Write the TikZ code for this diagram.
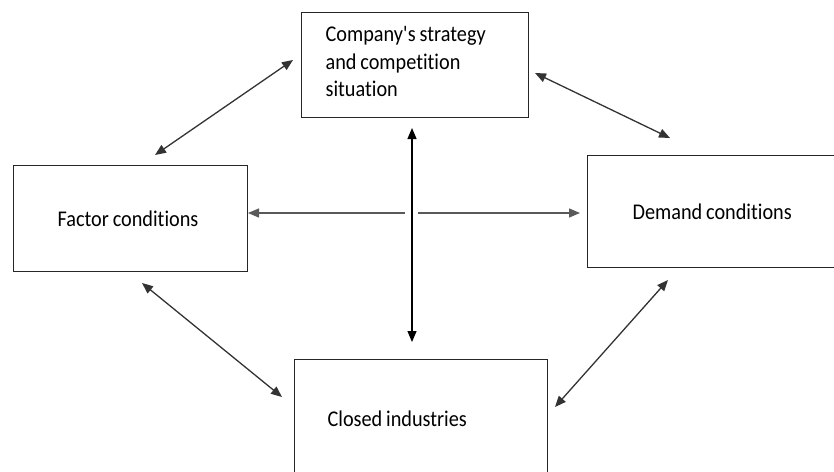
\documentclass[tikz,border=0pt]{standalone}
\usepackage{fontspec}
\setmainfont{Carlito}[Ligatures=NoCommon, FakeStretch=0.9]
\usetikzlibrary{arrows.meta}

\tikzset{
    box/.style={rectangle, draw=black!85, line width=1.2pt, anchor=north west,
        align=left, inner ysep=0pt, font=\fontsize{22.5}{27.5}\selectfont,
        execute at begin node={\spaceskip=0.17em\relax}},
    link/.style={line width=1.3pt, draw=black!80,
        >={Triangle[length=11pt,width=9pt]}},
}

\begin{document}
\begin{tikzpicture}[x=1pt, y=-1pt]
    \useasboundingbox (0,0) rectangle (834,471);

    \node[box, minimum height=105, text width=179, inner xsep=24] at (301, 12) (strategy) {Company\textquotesingle s strategy\\and competition\\situation\rule[-7pt]{0pt}{7pt}};
    \node[box, minimum height=106, text width=146, inner xsep=44] at (13, 165) (factor) {\mbox{Factor conditions}};
    \node[box, minimum height=112, text width=200, inner xsep=45] at (587, 155) (demand) {\mbox{Demand conditions}};
    \node[box, minimum height=118, text width=187, inner xsep=33] at (294, 359) (closed) {\mbox{Closed industries}};

    % loose arrow ends
    \coordinate (sf) at (293, 60);
    \coordinate (fs) at (155, 155);
    \coordinate (sd) at (535, 73);
    \coordinate (ds) at (670, 138);
    \coordinate (fc) at (142, 283);
    \coordinate (cf) at (282, 397);
    \coordinate (dc) at (668, 280);
    \coordinate (cd) at (555, 407);
    \coordinate (up) at (412, 128);
    \coordinate (down) at (412, 342);
    \coordinate (midl) at (405, 213);
    \coordinate (midr) at (418, 213);
    \coordinate (left) at (248, 213);
    \coordinate (right) at (580, 213);

    \draw[link, <->]    (fs) -- (sf);
    \draw[link, <->]    (sd) -- (ds);
    \draw[link, <->]    (fc) -- (cf);
    \draw[link, <->]    (cd) -- (dc);
    \draw[link, <->, draw=black]    (up) -- (down);
    \draw[link, ->, draw=black!65]  (midl) -- (left);
    \draw[link, ->, draw=black!65]  (midr) -- (right);
\end{tikzpicture}
\end{document}
